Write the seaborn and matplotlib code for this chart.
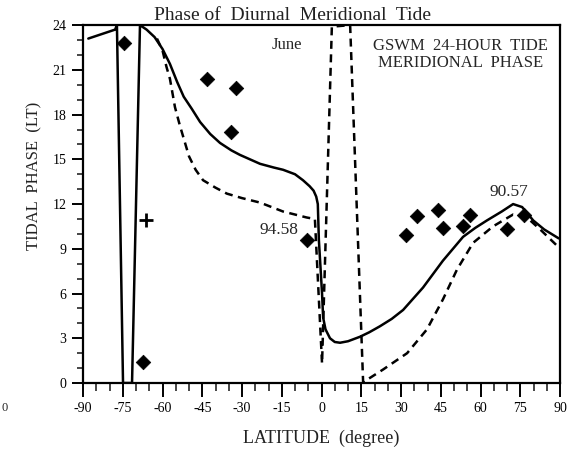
import matplotlib
matplotlib.use("Agg")
import matplotlib.pyplot as plt
import seaborn as sns
import pandas as pd
from matplotlib.ticker import MultipleLocator

# ---- data ----
solid_lat = [-88, -77.9, -77.2, -74.9, -71.5, -68.5, -66.0, -63.0, -60.0, -57.2, -54.5,
             -52.0, -49.0, -45.8, -42.0, -38.3, -34.0, -30.8, -27.0, -23.2, -18.0,
             -14.5, -10.0, -7.0, -4.5, -3.0, -2.0, -1.4, -1.0, 0.2, 0.6, 1.5, 3.2,
             5.0, 7.0, 10.0, 14.5, 18.0, 22.0, 26.5, 30.8, 38.3, 45.8, 53.4, 58.0,
             62.4, 68.0, 72.3, 75.7, 79.9, 84.0, 89.5]
solid_phase = [23.1, 23.7, 24.0, 0.0, 0.0, 24.0, 23.7, 23.2, 22.4, 21.4, 20.2,
               19.2, 18.4, 17.5, 16.7, 16.1, 15.6, 15.3, 15.0, 14.7, 14.45,
               14.3, 14.0, 13.6, 13.2, 12.9, 12.5, 12.0, 9.6, 6.0, 4.4, 3.6, 3.0,
               2.75, 2.7, 2.8, 3.1, 3.4, 3.8, 4.3, 4.9, 6.4, 8.2, 9.8, 10.4,
               10.9, 11.5, 12.0, 11.8, 10.9, 10.3, 9.7]

dashed_lat = [-62.1, -60.0, -58.5, -57.2, -55.3, -53.5, -52.0, -50.0, -47.5, -44.7,
              -40.0, -35.7, -30.0, -23.2, -14.5, -5.6, -2.5, 0.2, 3.9, 10.8, 15.7,
              23.2, 32.3, 39.8, 45.8, 51.1, 57.2, 64.7, 72.3, 77.5, 82.5, 89.5]
dashed_phase = [23.1, 22.3, 21.2, 20.4, 18.5, 17.3, 16.4, 15.2, 14.3, 13.6,
                13.1, 12.7, 12.4, 12.1, 11.5, 11.1, 11.0, 1.3, 23.9, 24.0, 0.05,
                0.9, 2.0, 3.6, 5.6, 7.6, 9.4, 10.5, 11.3, 11.1, 10.3, 9.1]

obs_lat = [-74.5, -43.2, -32.3, -34.2, -67.4, -5.5, 31.9, 36.1, 44.0, 45.8,
           53.4, 56.0, 70.0, 76.4]
obs_phase = [22.8, 20.4, 19.8, 16.8, 1.4, 9.6, 9.9, 11.2, 11.6, 10.4,
             10.5, 11.3, 10.3, 11.3]

plus_lat = [-66.2]
plus_phase = [10.9]

x_ticks = [-90, -75, -60, -45, -30, -15, 0, 15, 30, 45, 60, 75, 90]
y_ticks = [0, 3, 6, 9, 12, 15, 18, 21, 24]

title = "Phase of  Diurnal  Meridional  Tide"
xlabel = "LATITUDE  (degree)"
ylabel = "TIDAL  PHASE  (LT)"
labels = {"june": "June", "gswm": "GSWM  24-HOUR  TIDE\nMERIDIONAL  PHASE",
          "left": "94.58", "right": "90.57"}

# ---- plotting ----
sns.set_theme(style="ticks")
plt.rcParams["font.family"] = ["Liberation Serif", "DejaVu Serif"]

fig = plt.figure(figsize=(5.67, 4.49), dpi=100)
ax = fig.add_axes([0.1464, 0.147, 0.8413, 0.797])

solid = pd.DataFrame({"lat": solid_lat, "phase": solid_phase})
dashed = pd.DataFrame({"lat": dashed_lat, "phase": dashed_phase})
obs = pd.DataFrame({"lat": obs_lat, "phase": obs_phase})
plus = pd.DataFrame({"lat": plus_lat, "phase": plus_phase})

sns.lineplot(data=solid, x="lat", y="phase", sort=False, estimator=None,
             color="black", linewidth=1.8, ax=ax)
sns.lineplot(data=dashed, x="lat", y="phase", sort=False, estimator=None,
             color="black", linewidth=1.8, ax=ax, linestyle=(0, (3.2, 2.2)))
sns.scatterplot(data=obs, x="lat", y="phase", marker="D", s=55, color="black",
                edgecolor="black", linewidth=0.5, ax=ax, zorder=5)
sns.scatterplot(data=plus, x="lat", y="phase", marker="+", s=110, color="black",
                linewidth=2.0, ax=ax, zorder=5)

ax.set_xlim(-90, 90)
ax.set_ylim(0, 24)
ax.set_xticks(x_ticks)
ax.set_yticks(y_ticks)
ax.set_xticklabels([str(t) for t in x_ticks])
ax.set_yticklabels([str(t) for t in y_ticks])
ax.xaxis.set_minor_locator(MultipleLocator(5))
ax.yaxis.set_minor_locator(MultipleLocator(1))
ax.tick_params(axis="both", which="major", direction="out", length=10, width=1.4,
               labelsize=10, colors="black", pad=4)
ax.tick_params(axis="both", which="minor", direction="out", length=5.5, width=1.2)
ax.tick_params(axis="y", which="major", length=8)
ax.tick_params(axis="y", which="minor", length=4.5)
for sp in ax.spines.values():
    sp.set_visible(True)
    sp.set_linewidth(1.6)
    sp.set_color("black")

ax.set_xlabel(xlabel, fontsize=13, color="#222222")
ax.set_ylabel(ylabel, fontsize=12, color="#222222")
ax.xaxis.set_label_coords(0.5, -0.13)
ax.yaxis.set_label_coords(-0.085, 0.578)
ax.set_title(title, fontsize=14, color="#222222", pad=4, x=0.44)

ax.text(-13, 22.7, labels["june"], fontsize=12, ha="center", va="center")
ax.text(52.5, 22.05, labels["gswm"], fontsize=12, ha="center", va="center",
        linespacing=1.05)
ax.text(-16, 10.26, labels["left"], fontsize=12.5, ha="center", va="center")
ax.text(70.8, 12.8, labels["right"], fontsize=12.5, ha="center", va="center")

fig.text(0.002, 1 - 408 / 449, "0", fontsize=9, ha="left", va="center")

fig.savefig("out.png", dpi=100, facecolor="white")
